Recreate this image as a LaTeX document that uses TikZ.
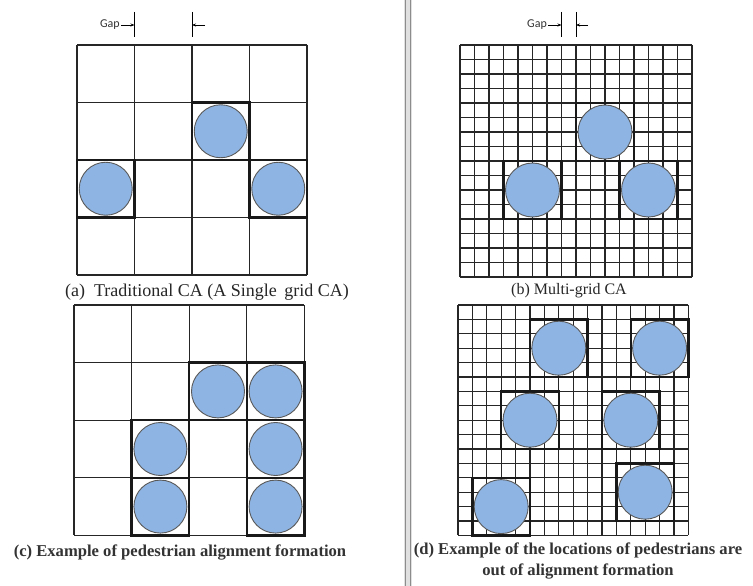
\documentclass[tikz,border=0pt]{standalone}
\usepackage{fontspec}
\setmainfont{Liberation Serif}
\newfontfamily\gapfont{Carlito}
\usepackage{xcolor}
\usetikzlibrary{arrows.meta}

\definecolor{pedblue}{RGB}{142,180,227}

\begin{document}
\begin{tikzpicture}[x=1pt, y=-1pt,
  cellln/.style={draw=black!85, line width=1.2pt},
  occ/.style={draw=black!90, line width=2.4pt},
  ped/.style={circle, draw=black!65, line width=0.9pt, fill=pedblue,
              inner sep=0pt, minimum size=#1},
  ped/.default=53pt,
  captxt/.style={font=\fontsize{18}{20}\selectfont, text=black!85, inner sep=0pt},
  capb/.style={font=\fontsize{16.6}{21}\selectfont\bfseries, text=black!80,
               inner sep=0pt, align=center},
  gaptxt/.style={font=\gapfont\fontsize{12}{13}\selectfont, text=black!80,
                 anchor=east, inner sep=1pt},
  gapln/.style={line width=0.9pt},
  gaparr/.style={-{Stealth[length=4pt,width=3pt]}, line width=0.8pt},
]
\useasboundingbox[fill=white] (0,0) rectangle (753,586);

%% divider between the two columns
\fill[black!12] (404,0) rectangle (412,586);
\draw[black!45, line width=0.8pt] (405,0) -- (405,586);
\draw[black!45, line width=0.8pt] (410.5,0) -- (410.5,586);

%% (a) Traditional CA
\foreach \i in {0,...,4} {
  \draw[cellln] (77+\i*57.5,45) -- (77+\i*57.5,275);
  \draw[cellln] (77,45+\i*57.5) -- (307,45+\i*57.5);
}
\foreach \c/\r in {2/1,0/2,3/2} {
  \draw[occ] (77+\c*57.5,45+\r*57.5) rectangle ++(57.5,57.5);
  \node[ped] (a-\c-\r) at (77+\c*57.5+28.75,45+\r*57.5+28.75) {};
}
% gap marker
\coordinate (ga1t) at (134.5,12); \coordinate (ga1b) at (134.5,37);
\coordinate (ga2t) at (192,12);   \coordinate (ga2b) at (192,37);
\draw[gapln] (ga1t) -- (ga1b);
\draw[gapln] (ga2t) -- (ga2b);
\node[gaptxt] (gapA) at (121,25) {Gap};
\coordinate (ga2r) at (205,25);
\draw[gaparr] (gapA.east) -- (ga1t |- gapA.east);
\draw[gaparr] (ga2r) -- (ga2t |- ga2r);
\node[captxt] (capA) at (207,292) {(a)\ \ Traditional CA (A Single\ \,grid CA)};

%% (b) Multi-grid CA
\foreach \i in {0,...,16} {
  \draw[cellln] (460+\i*14.5,45) -- (460+\i*14.5,277);
  \draw[cellln] (460,45+\i*14.5) -- (692,45+\i*14.5);
}
\foreach \c/\r in {8/4,3/8,11/8} {
  \draw[occ] (460+\c*14.5,45+\r*14.5) rectangle ++(58,58);
  \node[ped=54pt] (b-\c-\r) at (460+\c*14.5+29,45+\r*14.5+29) {};
}
% gap marker
\coordinate (gb1t) at (561.5,12); \coordinate (gb1b) at (561.5,37);
\coordinate (gb2t) at (576,12);   \coordinate (gb2b) at (576,37);
\draw[gapln] (gb1t) -- (gb1b);
\draw[gapln] (gb2t) -- (gb2b);
\node[gaptxt] (gapB) at (548,25) {Gap};
\coordinate (gb2r) at (588,25);
\draw[gaparr] (gapB.east) -- (gb1t |- gapB.east);
\draw[gaparr] (gb2r) -- (gb2t |- gb2r);
\node[captxt, font=\fontsize{16}{18}\selectfont] (capB) at (569,291) {(b) Multi-grid CA};

%% (c) alignment formation
\foreach \i in {0,...,4} {
  \draw[cellln] (74+\i*57.6,305) -- (74+\i*57.6,535.4);
  \draw[cellln] (74,305+\i*57.6) -- (304.4,305+\i*57.6);
}
\foreach \c/\r in {2/1,3/1,1/2,3/2,1/3,3/3} {
  \draw[occ] (74+\c*57.6,305+\r*57.6) rectangle ++(57.6,57.6);
  \node[ped] (c-\c-\r) at (74+\c*57.6+28.8,305+\r*57.6+28.8) {};
}
\node[capb] (capC) at (180,552) {(c) Example of pedestrian alignment formation};

%% (d) out of alignment
\foreach \i in {0,...,16} {
  \draw[cellln] (458+\i*14.4,305) -- (458+\i*14.4,535.4);
  \draw[cellln] (458,305+\i*14.4) -- (688.4,305+\i*14.4);
}
\foreach \c/\r in {5/1,12/1,3/6,10/6,1/12,11/11} {
  \draw[occ] (458+\c*14.4,305+\r*14.4) rectangle ++(57.6,57.6);
  \node[ped=54pt] (d-\c-\r) at (458+\c*14.4+28.8,305+\r*14.4+28.8) {};
}
\node[capb, anchor=north] (capD) at (578,543) {(d) Example of the locations of pedestrians are\\out of alignment formation};

\end{tikzpicture}
\end{document}
